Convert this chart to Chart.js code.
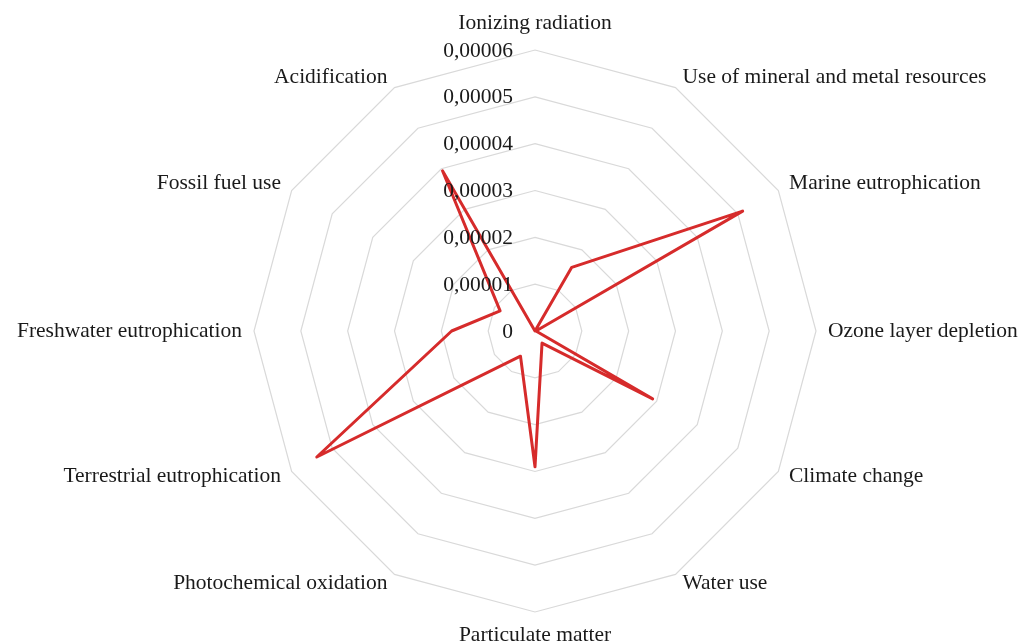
<!DOCTYPE html>
<html>
<head>
<meta charset="utf-8">
<script src="https://cdn.jsdelivr.net/npm/chart.js@4/dist/chart.umd.min.js"></script>
<style>
  html, body { margin: 0; padding: 0; background: #ffffff; }
  #wrap { width: 1025px; height: 644px; }
</style>
</head>
<body>
<div id="wrap"><canvas id="chart" width="1025" height="644"></canvas></div>
<script>
// Impact categories, clockwise from the top
const categories = [
  'Ionizing radiation',
  'Use of mineral and metal resources',
  'Marine eutrophication',
  'Ozone layer depletion',
  'Climate change',
  'Water use',
  'Particulate matter',
  'Photochemical oxidation',
  'Terrestrial eutrophication',
  'Freshwater eutrophication',
  'Fossil fuel use',
  'Acidification'
];

// Normalised impact per category
const impactValues = [
  0.0000000, 0.0000157, 0.0000512, 0.0000002, 0.0000290, 0.0000030,
  0.0000290, 0.0000062, 0.0000538, 0.0000178, 0.0000086, 0.0000395
];

// Radial ticks and their printed form (comma decimal separator)
const tickValues = [0, 0.00001, 0.00002, 0.00003, 0.00004, 0.00005, 0.00006];
const tickLabels = ['0', '0,00001', '0,00002', '0,00003', '0,00004', '0,00005', '0,00006'];

const FONT = '21.5px "Liberation Serif", "Times New Roman", serif';
const TEXT_COLOR = '#1a1a1a';

// Draws the category names and the tick values next to the radial scale
const radarText = {
  id: 'radarText',
  afterDraw(chart) {
    const scale = chart.scales.r;
    const ctx = chart.ctx;
    ctx.save();
    ctx.font = FONT;
    ctx.fillStyle = TEXT_COLOR;

    // tick values, right-aligned just left of the vertical axis
    tickValues.forEach((v, i) => {
      const d = scale.getDistanceFromCenterForValue(v);
      ctx.textAlign = 'right';
      ctx.textBaseline = 'middle';
      ctx.fillText(tickLabels[i], scale.xCenter - 22, scale.yCenter - d + 1);
    });

    // category labels around the outer ring
    const outer = scale.drawingArea;
    categories.forEach((name, i) => {
      const p = scale.getPointPosition(i, outer + 10);
      const deg = Math.round(i * 360 / categories.length);
      let x = p.x, y = p.y;
      if (deg === 0) {
        ctx.textAlign = 'center'; ctx.textBaseline = 'bottom'; y -= 6;
      } else if (deg === 180) {
        ctx.textAlign = 'center'; ctx.textBaseline = 'top'; y += 3;
      } else if (deg < 180) {
        ctx.textAlign = 'left'; ctx.textBaseline = 'middle'; x += 2;
        if (deg < 90) y -= 2;
      } else {
        ctx.textAlign = 'right'; ctx.textBaseline = 'middle'; x -= 2;
        if (deg > 270) y -= 2;
      }
      ctx.fillText(name, x, y);
    });
    ctx.restore();
  }
};

new Chart(document.getElementById('chart'), {
  type: 'radar',
  data: {
    labels: categories,
    datasets: [{
      data: impactValues,
      borderColor: '#d62b2b',
      borderWidth: 3,
      backgroundColor: 'transparent',
      fill: false,
      pointRadius: 0,
      pointHoverRadius: 0,
      tension: 0,
      borderJoinStyle: 'round'
    }]
  },
  options: {
    responsive: false,
    animation: false,
    events: [],
    layout: { padding: { top: 50, bottom: 32, left: 100, right: 54 } },
    plugins: {
      legend: { display: false },
      tooltip: { enabled: false }
    },
    scales: {
      r: {
        min: 0,
        max: 0.00006,
        ticks: { stepSize: 0.00001, display: false },
        grid: { color: '#d9d9d9', lineWidth: 1.2, circular: false },
        angleLines: { display: false },
        pointLabels: { display: false }
      }
    }
  },
  plugins: [radarText]
});
</script>
</body>
</html>
